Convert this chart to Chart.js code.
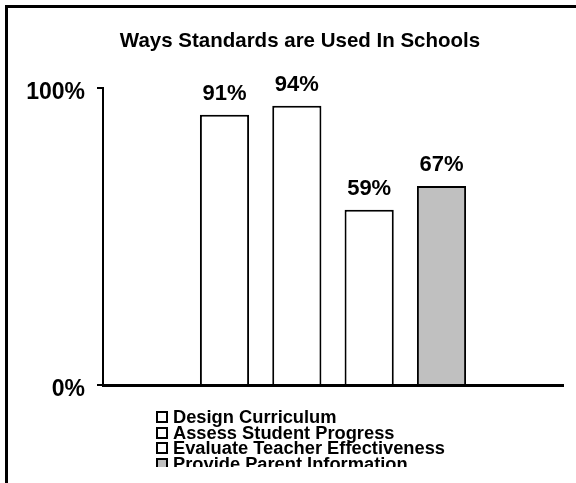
<!DOCTYPE html>
<html lang="en">
<head>
<meta charset="UTF-8" />
<title>Ways Standards are Used In Schools</title>
<script src="https://cdn.jsdelivr.net/npm/chart.js"></script>
<style>
  html, body { margin:0; padding:0; background:#fff; }
  body { width:576px; height:483px; position:relative; overflow:hidden; font-family:"Liberation Sans", Arial, sans-serif; }
  #frame { position:absolute; left:5px; top:5px; right:-10px; bottom:-10px; border-top:3px solid #000; border-left:3px solid #000; }
  #chart { position:absolute; left:0; top:0; }
  #title { position:absolute; left:0; width:600px; top:28px; text-align:center; font-weight:bold; font-size:20.5px; line-height:24px; color:#000; }
  /* legend sits under the plot and is cut off at the bottom */
  #legend { position:absolute; left:156px; top:409px; height:58px; overflow:hidden; font-weight:bold; font-size:18.3px; line-height:15.7px; color:#000; }
  #legend .item { display:flex; align-items:center; white-space:nowrap; }
  #legend .box { width:8px; height:8px; border:2px solid #000; margin-right:5px; flex:none; }
</style>
</head>
<body>
<div id="frame"></div>
<canvas id="chart" width="576" height="483"></canvas>
<div id="title">Ways Standards are Used In Schools</div>
<div id="legend"></div>

<script>
  // ---- data ----
  const categories = ['Schools'];
  const seriesNames = ['Design Curriculum', 'Assess Student Progress', 'Evaluate Teacher Effectiveness', 'Provide Parent Information'];
  const seriesValues = [91, 94, 59, 67];
  const yTicks = [0, 100];

  const fills = ['#ffffff', '#ffffff', '#ffffff', '#c0c0c0'];

  Chart.defaults.font.family = '"Liberation Sans", Arial, sans-serif';
  Chart.defaults.color = '#000';

  // percentage above each bar
  const barLabels = {
    id: 'barLabels',
    afterDatasetsDraw(chart) {
      const ctx = chart.ctx;
      ctx.save();
      ctx.font = 'bold 22px "Liberation Sans", Arial, sans-serif';
      ctx.fillStyle = '#000';
      ctx.textAlign = 'center';
      ctx.textBaseline = 'alphabetic';
      chart.data.datasets.forEach((ds, i) => {
        const bar = chart.getDatasetMeta(i).data[0];
        ctx.fillText(ds.data[0] + '%', bar.x, bar.y - 15);
      });
      ctx.restore();
    }
  };

  new Chart(document.getElementById('chart'), {
    type: 'bar',
    data: {
      labels: categories,
      datasets: seriesNames.map((name, i) => ({
        label: name,
        data: [seriesValues[i]],
        backgroundColor: fills[i],
        borderColor: '#000',
        borderWidth: 2,
        categoryPercentage: 0.629,
        barPercentage: 0.68
      }))
    },
    options: {
      responsive: false,
      animation: false,
      devicePixelRatio: 1,
      layout: { padding: { left: 0, right: 13, top: 88, bottom: 98 } },
      plugins: {
        legend: { display: false },
        tooltip: { enabled: false },
        title: { display: false }
      },
      scales: {
        x: {
          type: 'category',
          offset: true,
          grid: { display: false },
          ticks: { display: false },
          border: { color: '#000', width: 3 },
          afterFit(s) { s.height = 0; }
        },
        y: {
          min: yTicks[0],
          max: yTicks[yTicks.length - 1],
          afterBuildTicks(s) { s.ticks = yTicks.map(v => ({ value: v })); },
          grid: { drawOnChartArea: false, drawTicks: true, tickLength: 6, color: '#000', lineWidth: 2 },
          border: { color: '#000', width: 2 },
          ticks: {
            padding: 12,
            labelOffset: 5,
            color: '#000',
            font: { size: 23, weight: 'bold' },
            callback: v => v + '%'
          },
          afterFit(s) { s.width = 103; }
        }
      }
    },
    plugins: [barLabels]
  });

  // legend list, one row per series
  const legend = document.getElementById('legend');
  seriesNames.forEach((name, i) => {
    const row = document.createElement('div');
    row.className = 'item';
    const box = document.createElement('span');
    box.className = 'box';
    box.style.background = fills[i];
    row.appendChild(box);
    row.appendChild(document.createTextNode(name));
    legend.appendChild(row);
  });
</script>
</body>
</html>
